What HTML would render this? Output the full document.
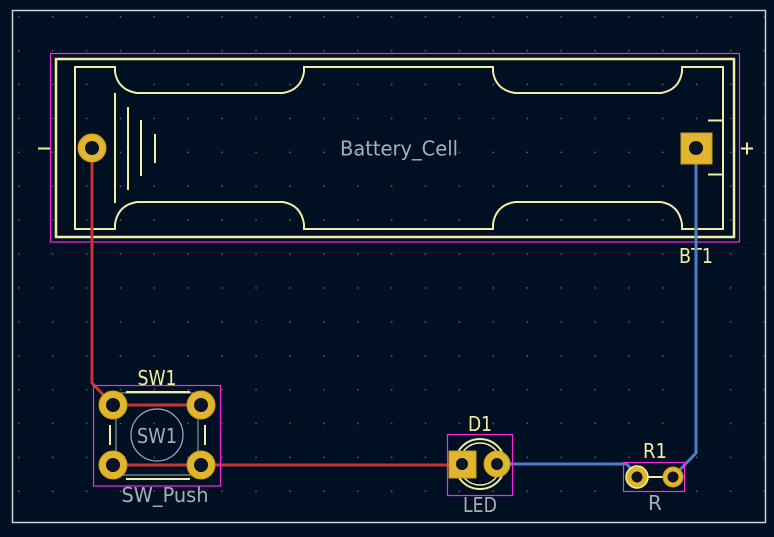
<!DOCTYPE html>
<html><head><meta charset="utf-8"><style>html,body{margin:0;padding:0;background:#001023;}svg{display:block}</style></head>
<body>
<svg width="774" height="537" viewBox="0 0 774 537" xmlns="http://www.w3.org/2000/svg" font-family="DejaVu Sans, Liberation Sans, sans-serif">
<defs>
<pattern id="g" x="1" y="0" width="33.9" height="33.9" patternUnits="userSpaceOnUse">
<rect x="17" y="16" width="1.5" height="1.5" fill="#5a6472"/>
</pattern>
</defs>
<rect width="774" height="537" fill="#001023"/>
<rect x="12" y="10" width="754" height="513" fill="url(#g)"/>
<rect x="12.5" y="10.5" width="753" height="512" fill="none" stroke="#d0d0d0" stroke-width="1.5"/>

<!-- Battery -->
<rect x="50.5" y="53.5" width="689" height="188.5" fill="none" stroke="#ff26e2" stroke-width="1.2"/>
<rect x="56" y="59" width="678" height="178" fill="none" stroke="#f2eda1" stroke-width="2.5"/>
<path d="M75 67 H115 V72 Q118 90 137 93 H283 Q301 90 304 72 V67 H493 V72 Q496 90 515 93 H661 Q679 90 682 72 V67 H723 V229 H682 V224 Q679 205 661 202 H515 Q496 205 493 224 V229 H304 V224 Q301 205 283 202 H137 Q118 205 115 224 V229 H75 Z" fill="none" stroke="#f2eda1" stroke-width="2"/>
<g stroke="#f2eda1" stroke-width="2">
<line x1="115" y1="93" x2="115" y2="203"/>
<line x1="128" y1="107" x2="128" y2="190"/>
<line x1="141" y1="120" x2="141" y2="176"/>
<line x1="155" y1="134" x2="155" y2="163"/>
<line x1="38" y1="148.5" x2="50" y2="148.5"/>
<line x1="741" y1="148.5" x2="753" y2="148.5"/>
<line x1="747" y1="142.5" x2="747" y2="154.5"/>
<line x1="708" y1="120.5" x2="723" y2="120.5"/>
<line x1="708" y1="174.5" x2="723" y2="174.5"/>
</g>
<text x="399" y="155.5" font-size="20" fill="#a8aeb8" text-anchor="middle" textLength="118" lengthAdjust="spacingAndGlyphs">Battery_Cell</text>
<text x="696" y="263" font-size="20" fill="#f2eda1" text-anchor="middle" textLength="34" lengthAdjust="spacingAndGlyphs">BT1</text>

<!-- traces -->
<polyline points="92,148 92,383 113,405" fill="none" stroke="#c83434" stroke-width="3"/>
<line x1="113" y1="405" x2="201" y2="405" stroke="#c83434" stroke-width="3"/>
<line x1="113" y1="465" x2="201" y2="465" stroke="#c83434" stroke-width="3"/>
<line x1="201" y1="465" x2="462" y2="465" stroke="#c83434" stroke-width="3"/>
<polyline points="497,464 627,464 637,477" fill="none" stroke="#4d7fc4" stroke-width="3"/>
<polyline points="673,477 696,453 696,148" fill="none" stroke="#4d7fc4" stroke-width="3"/>

<!-- battery pads -->
<circle cx="92" cy="148" r="14" fill="#e2b52f" stroke="#c89a10" stroke-width="1"/>
<circle cx="92" cy="148" r="7" fill="#0b1420"/>
<rect x="681" y="133" width="31" height="31" fill="#e2b52f" stroke="#c89a10"/>
<circle cx="696" cy="148" r="7" fill="#0b1420"/>

<!-- SW1 -->
<rect x="93.5" y="385.5" width="127" height="100.5" fill="none" stroke="#ff26e2" stroke-width="1.2"/>
<rect x="116" y="393" width="82" height="82" fill="none" stroke="#a8aeb8" stroke-width="1"/>
<g stroke="#f2eda1" stroke-width="2">
<line x1="126" y1="392" x2="190" y2="392"/>
<line x1="126" y1="479" x2="190" y2="479"/>
<line x1="110" y1="425" x2="110" y2="445"/>
<line x1="205" y1="425" x2="205" y2="445"/>
</g>
<circle cx="157" cy="435" r="26" fill="none" stroke="#a8aeb8" stroke-width="1.2"/>
<text x="157" y="443" font-size="20" fill="#a8aeb8" text-anchor="middle" textLength="40" lengthAdjust="spacingAndGlyphs">SW1</text>
<text x="157" y="385" font-size="20" fill="#f2eda1" text-anchor="middle" textLength="39" lengthAdjust="spacingAndGlyphs">SW1</text>
<text x="165" y="502" font-size="20" fill="#a8aeb8" text-anchor="middle" textLength="87" lengthAdjust="spacingAndGlyphs">SW_Push</text>
<g fill="#e2b52f" stroke="#c89a10">
<circle cx="113" cy="405" r="14"/><circle cx="201" cy="405" r="14"/>
<circle cx="113" cy="465" r="14"/><circle cx="201" cy="465" r="14"/>
</g>
<g fill="#0b1420">
<circle cx="113" cy="405" r="7"/><circle cx="201" cy="405" r="7"/>
<circle cx="113" cy="465" r="7"/><circle cx="201" cy="465" r="7"/>
</g>

<!-- D1 -->
<rect x="447.5" y="434.5" width="65" height="61" fill="none" stroke="#ff26e2" stroke-width="1.2"/>
<circle cx="480" cy="464" r="25" fill="none" stroke="#f2eda1" stroke-width="2"/>
<circle cx="480" cy="464" r="21" fill="none" stroke="#f2eda1" stroke-width="1.5"/>
<rect x="449" y="451" width="27" height="27" fill="#e2b52f" stroke="#c89a10"/>
<circle cx="462" cy="464" r="6" fill="#0b1420"/>
<circle cx="497" cy="464" r="13" fill="#e2b52f" stroke="#c89a10"/>
<circle cx="497" cy="464" r="6" fill="#0b1420"/>
<text x="480" y="431" font-size="20" fill="#f2eda1" text-anchor="middle" textLength="24" lengthAdjust="spacingAndGlyphs">D1</text>
<text x="480" y="512" font-size="20" fill="#a8aeb8" text-anchor="middle" textLength="34" lengthAdjust="spacingAndGlyphs">LED</text>

<!-- R1 -->
<rect x="623.5" y="462.5" width="61" height="29" fill="none" stroke="#ff26e2" stroke-width="1.2"/>
<line x1="645" y1="477" x2="665" y2="477" stroke="#f2eda1" stroke-width="2"/>
<circle cx="637" cy="477" r="11" fill="#e2b52f" stroke="#f2eda1" stroke-width="1.5"/>
<circle cx="637" cy="477" r="5.5" fill="#0b1420"/>
<circle cx="673" cy="477" r="10" fill="#e2b52f" stroke="#c89a10"/>
<circle cx="673" cy="477" r="5.5" fill="#0b1420"/>
<text x="655" y="458" font-size="20" fill="#f2eda1" text-anchor="middle" textLength="24" lengthAdjust="spacingAndGlyphs">R1</text>
<text x="655" y="510" font-size="20" fill="#a8aeb8" text-anchor="middle">R</text>
</svg>
</body></html>
